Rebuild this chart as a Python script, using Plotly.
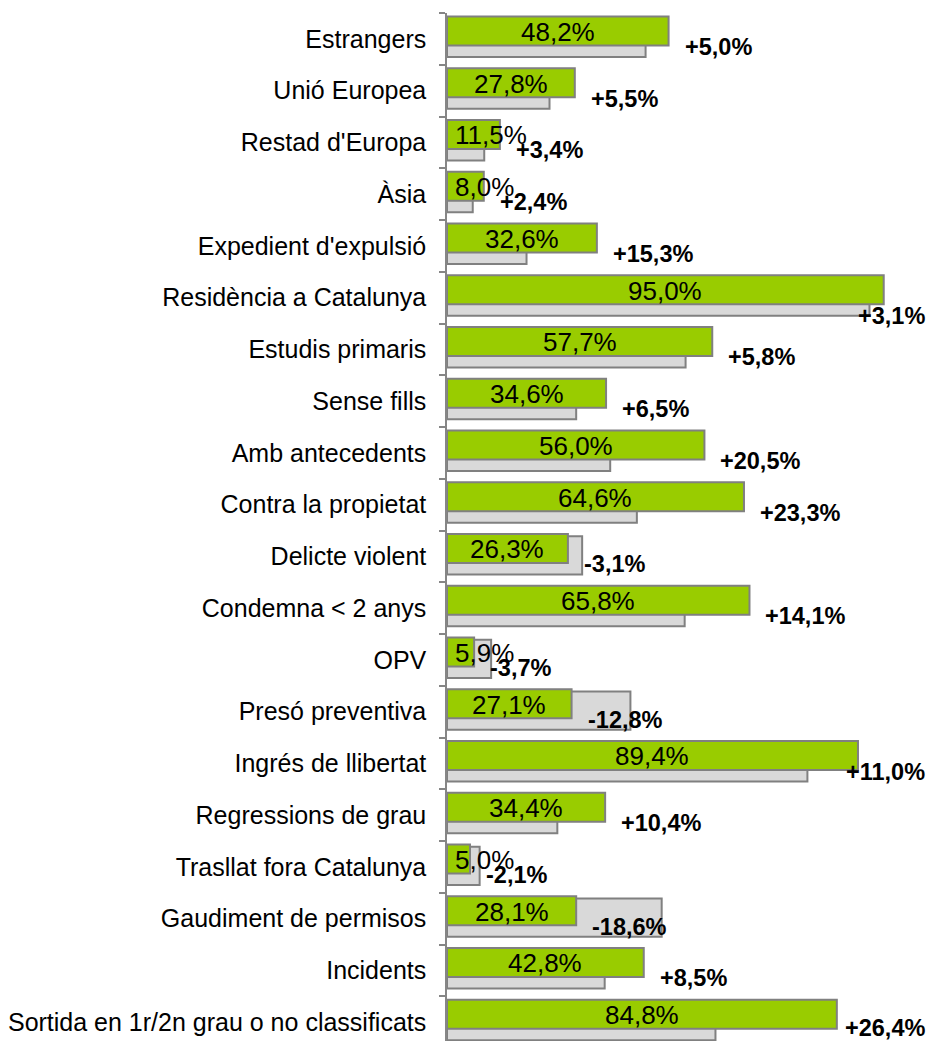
import plotly.graph_objects as go

categories = [
    "Estrangers", "Unió Europea", "Restad d'Europa", "Àsia",
    "Expedient d'expulsió", "Residència a Catalunya", "Estudis primaris",
    "Sense fills", "Amb antecedents", "Contra la propietat",
    "Delicte violent", "Condemna < 2 anys", "OPV", "Presó preventiva",
    "Ingrés de llibertat", "Regressions de grau", "Trasllat fora Catalunya",
    "Gaudiment de permisos", "Incidents",
    "Sortida en 1r/2n grau o no classificats",
]
# green bars (labelled values)
green_vals = [48.2, 27.8, 11.5, 8.0, 32.6, 95.0, 57.7, 34.6, 56.0, 64.6,
              26.3, 65.8, 5.9, 27.1, 89.4, 34.4, 5.0, 28.1, 42.8, 84.8]
# grey comparison bars
grey_vals = [43.2, 22.3, 8.1, 5.6, 17.3, 91.9, 51.9, 28.1, 35.5, 41.3,
             29.4, 51.7, 9.6, 39.9, 78.4, 24.0, 7.1, 46.7, 34.3, 58.4]
# differences shown in bold
diff_vals = [5.0, 5.5, 3.4, 2.4, 15.3, 3.1, 5.8, 6.5, 20.5, 23.3,
             -3.1, 14.1, -3.7, -12.8, 11.0, 10.4, -2.1, -18.6, 8.5, 26.4]

FONT = "Liberation Sans, Arial, sans-serif"
GREEN = "#99CC00"
GREY = "#D9D9D9"
EDGE = "#808080"


def pct(v, sign=False):
    s = f"{v:+.1f}%" if sign else f"{v:.1f}%"
    return s.replace(".", ",")


fig = go.Figure()
fig.add_trace(go.Bar(
    y=categories, x=grey_vals, orientation="h",
    marker=dict(color=GREY, line=dict(color=EDGE, width=2)),
    offset=-0.39, width=0.74, hoverinfo="skip",
))
fig.add_trace(go.Bar(
    y=categories, x=green_vals, orientation="h",
    marker=dict(color=GREEN, line=dict(color=EDGE, width=2)),
    offset=-0.432, width=0.56, hoverinfo="skip",
))

annotations = []
vfont = dict(family=FONT, size=26, color="black")
dfont = dict(family=FONT, size=23.5, color="black")
for cat, g, d in zip(categories, green_vals, diff_vals):
    # value label inside green bar
    if g < 15:
        annotations.append(dict(x=0, y=cat, text=pct(g), xanchor="left",
                                xshift=6, yshift=7, showarrow=False, font=vfont))
    else:
        annotations.append(dict(x=g / 2, y=cat, text=pct(g), xanchor="center",
                                yshift=7, showarrow=False, font=vfont))
    # difference label (pulled back inside the chart when it would overflow)
    label = "<b>" + pct(d, True) + "</b>"
    if g > 80:
        if g > 92:
            ys = -18
        elif g > 86:
            ys = -9
        else:
            ys = -6
        annotations.append(dict(x=1, xref="paper", y=cat, text=label,
                                xanchor="right", xshift=-2, yshift=ys,
                                showarrow=False, font=dfont))
    else:
        annotations.append(dict(x=g, y=cat, text=label,
                                xanchor="left", xshift=14, yshift=-8,
                                showarrow=False, font=dfont))

fig.update_layout(
    width=929, height=1041,
    margin=dict(l=447, r=0, t=13, b=0),
    paper_bgcolor="white", plot_bgcolor="white",
    barmode="overlay", showlegend=False,
    annotations=annotations,
    font=dict(family=FONT, size=25, color="black"),
)
fig.update_xaxes(range=[0, 104.85], visible=False, showgrid=False, zeroline=False)
fig.update_yaxes(
    type="category", range=[19.5 - 7 / 51.75, -0.5],
    showline=True, linecolor="#868686", linewidth=1.5,
    ticks="outside", tickson="boundaries", ticklen=6, tickcolor="#868686",
    tickwidth=1.5, showgrid=False, ticklabelstandoff=14,
    tickfont=dict(family=FONT, size=25, color="black"),
)

# page margin off so the figure fills the window exactly
fig.write_html("out.html", config={"displayModeBar": False},
               post_script="document.body.style.margin='0';")
